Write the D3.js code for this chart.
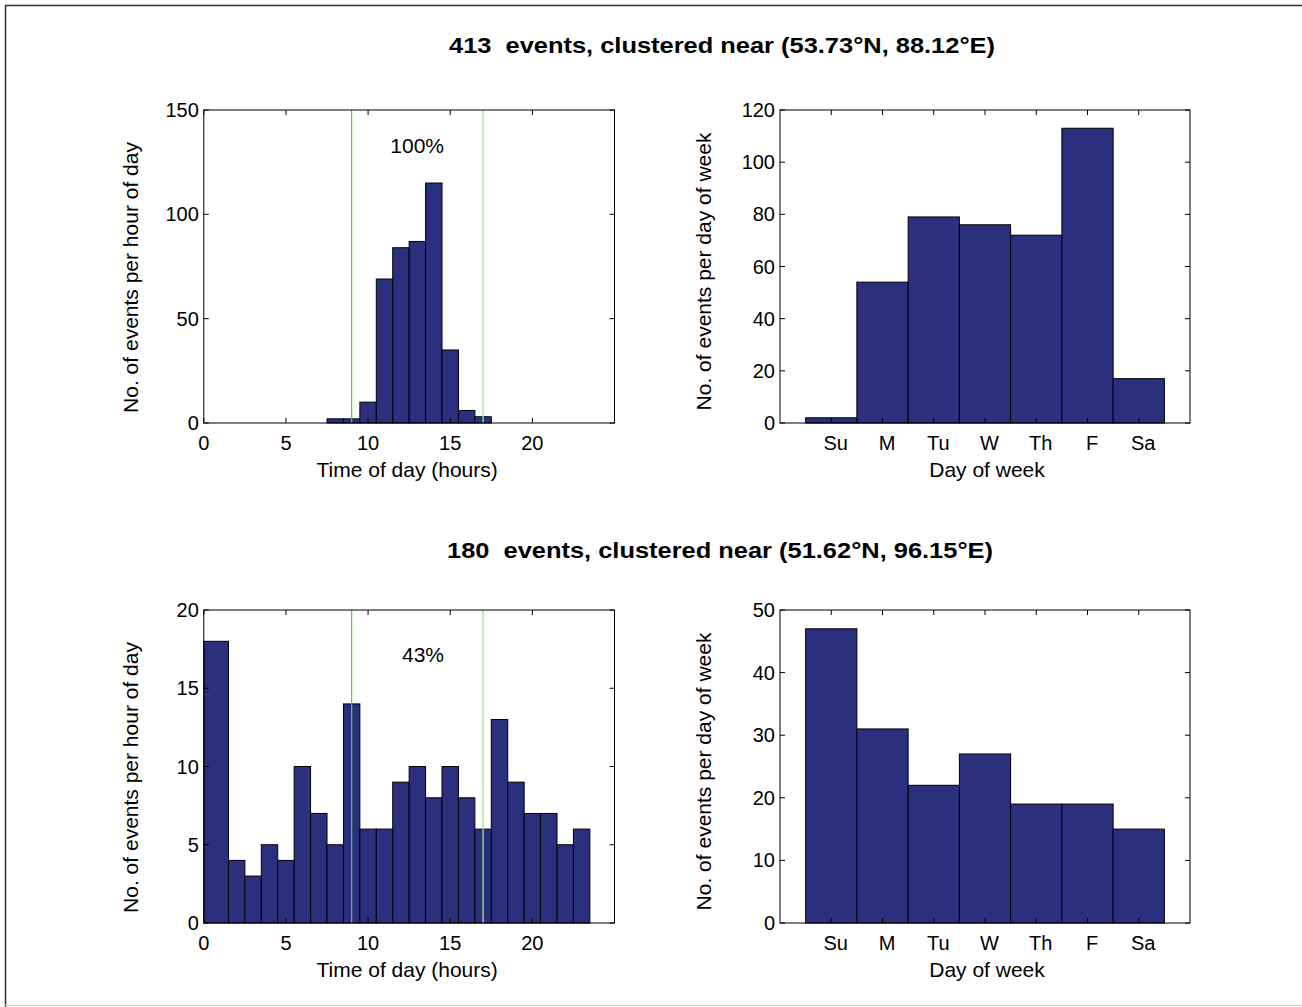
<!DOCTYPE html>
<html>
<head>
<meta charset="utf-8">
<script src="https://cdn.jsdelivr.net/npm/d3@7"></script>
<style>
  html, body { margin: 0; padding: 0; background: #ffffff; }
  svg { display: block; }
  text { font-family: "Liberation Sans", Arial, Helvetica, sans-serif; fill: #000; }
</style>
</head>
<body>
<svg id="chart" width="1302" height="1007"></svg>
<script>
// ---------- data ----------
const titles = [
  "413  events, clustered near (53.73°N, 88.12°E)",
  "180  events, clustered near (51.62°N, 96.15°E)"
];
const percentLabels = ["100%", "43%"];

// hour histograms: bin edges (hours) and counts
const topHourEdges = [7.5, 8.5, 9.5, 10.5, 11.5, 12.5, 13.5, 14.5, 15.5, 16.5, 17.5];
const topHourCounts = [2, 2, 10, 69, 84, 87, 115, 35, 6, 3];

const bottomHourEdges = [0, 1.5, 2.5, 3.5, 4.5, 5.5, 6.5, 7.5, 8.5, 9.5, 10.5, 11.5, 12.5,
                         13.5, 14.5, 15.5, 16.5, 17.5, 18.5, 19.5, 20.5, 21.5, 22.5, 23.5];
const bottomHourCounts = [18, 4, 3, 5, 4, 10, 7, 5, 14, 6, 6, 9, 10, 8, 10, 8, 6, 13, 9, 7, 7, 5, 6];

// working-hours markers
const workStart = 9;
const workEnd = 17;

// day-of-week
const days = ["Su", "M", "Tu", "W", "Th", "F", "Sa"];
const topDayCounts = [2, 54, 79, 76, 72, 113, 17];
const bottomDayCounts = [47, 31, 22, 27, 19, 19, 15];

// axis ticks
const hourTicks = [0, 5, 10, 15, 20];
const topHourYTicks = [0, 50, 100, 150];
const bottomHourYTicks = [0, 5, 10, 15, 20];
const topDayYTicks = [0, 20, 40, 60, 80, 100, 120];
const bottomDayYTicks = [0, 10, 20, 30, 40, 50];

// ---------- drawing ----------
const svg = d3.select("#chart");
const barFill = "#2a2f7e";
const tickFont = "20px";
const labelFont = "21px";

// outer frame
svg.append("line").attr("x1", 5).attr("x2", 1302).attr("y1", 5.5).attr("y2", 5.5)
  .attr("stroke", "#333").attr("stroke-width", 1.5);
svg.append("line").attr("x1", 5.5).attr("x2", 5.5).attr("y1", 5).attr("y2", 1007)
  .attr("stroke", "#333").attr("stroke-width", 1.5);
svg.append("line").attr("x1", 5).attr("x2", 1302).attr("y1", 1005.5).attr("y2", 1005.5)
  .attr("stroke", "#c8c8c8").attr("stroke-width", 1);

function drawFrame(g, x0, x1, y0, y1) {
  g.append("rect").attr("x", x0).attr("y", y0).attr("width", x1 - x0).attr("height", y1 - y0)
    .attr("fill", "none").attr("stroke", "#000").attr("stroke-width", 1);
}

function innerTicks(g, x, y, xTicks, yTicks, xLabels, xLabelDx) {
  const [xa, xb] = x.range();
  const [yb, ya] = y.range();
  const tl = 5;
  xTicks.forEach((t, i) => {
    const px = x(t);
    g.append("line").attr("x1", px).attr("x2", px).attr("y1", yb).attr("y2", yb - tl).attr("stroke", "#000");
    g.append("line").attr("x1", px).attr("x2", px).attr("y1", ya).attr("y2", ya + tl).attr("stroke", "#000");
    g.append("text").attr("x", px + (xLabelDx || 0)).attr("y", yb + 27)
      .attr("text-anchor", "middle").style("font-size", tickFont)
      .text(xLabels ? xLabels[i] : t);
  });
  yTicks.forEach(t => {
    const py = y(t);
    g.append("line").attr("x1", xa).attr("x2", xa + tl).attr("y1", py).attr("y2", py).attr("stroke", "#000");
    g.append("line").attr("x1", xb).attr("x2", xb - tl).attr("y1", py).attr("y2", py).attr("stroke", "#000");
    g.append("text").attr("x", xa - 5).attr("y", py + 7)
      .attr("text-anchor", "end").style("font-size", tickFont).text(t);
  });
}

function hourPanel(top, edges, counts, yMax, yTicks, pct, pctDy) {
  const left = 203.8, right = 614.5, bottom = top + 313;
  const g = svg.append("g");
  const x = d3.scaleLinear().domain([0, 25]).range([left, right]);
  const y = d3.scaleLinear().domain([0, yMax]).range([bottom, top]);
  const bins = counts.map((c, i) => ({ x0: edges[i], x1: edges[i + 1], c }));
  g.selectAll("rect.bar").data(bins).join("rect").attr("class", "bar")
    .attr("x", d => x(d.x0)).attr("width", d => x(d.x1) - x(d.x0))
    .attr("y", d => y(d.c)).attr("height", d => y(0) - y(d.c))
    .attr("fill", barFill).attr("stroke", "#000").attr("stroke-width", 1);
  g.append("line").attr("x1", x(workStart)).attr("x2", x(workStart)).attr("y1", top).attr("y2", bottom)
    .attr("stroke", "#5ccb46").attr("stroke-width", 1.2);
  g.append("line").attr("x1", x(workEnd)).attr("x2", x(workEnd)).attr("y1", top).attr("y2", bottom)
    .attr("stroke", "#9ee08e").attr("stroke-width", 1.4);
  drawFrame(g, left, right, top, bottom);
  innerTicks(g, x, y, hourTicks, yTicks);
  g.append("text").attr("x", 444).attr("y", top + pctDy).attr("text-anchor", "end")
    .style("font-size", labelFont).text(pct);
  g.append("text").attr("x", (left + right) / 2 - 2).attr("y", bottom + 54).attr("text-anchor", "middle")
    .style("font-size", labelFont).text("Time of day (hours)");
  g.append("text").attr("transform", `translate(138,${(top + bottom) / 2 + 11}) rotate(-90)`)
    .attr("text-anchor", "middle").style("font-size", labelFont).text("No. of events per hour of day");
}

function dayPanel(top, counts, yMax, yTicks) {
  const left = 780, right = 1190, bottom = top + 313;
  const g = svg.append("g");
  const x = d3.scaleLinear().domain([0, 8]).range([left, right]);
  const y = d3.scaleLinear().domain([0, yMax]).range([bottom, top]);
  const pos = days.map((d, i) => i + 1);
  g.selectAll("rect.bar").data(counts).join("rect").attr("class", "bar")
    .attr("x", (d, i) => x(pos[i] - 0.5)).attr("width", x(1) - x(0))
    .attr("y", d => y(d)).attr("height", d => y(0) - y(d))
    .attr("fill", barFill).attr("stroke", "#000").attr("stroke-width", 1);
  drawFrame(g, left, right, top, bottom);
  innerTicks(g, x, y, pos, yTicks, days, 4.5);
  g.append("text").attr("x", 987).attr("y", bottom + 54).attr("text-anchor", "middle")
    .style("font-size", labelFont).text("Day of week");
  g.append("text").attr("transform", `translate(711,${(top + bottom) / 2 + 5}) rotate(-90)`)
    .attr("text-anchor", "middle").style("font-size", labelFont).text("No. of events per day of week");
}

// titles
svg.append("text").attr("x", 722).attr("y", 53).attr("text-anchor", "middle")
  .style("font-size", "22px").style("font-weight", "bold").style("white-space", "pre")
  .attr("textLength", 546).attr("lengthAdjust", "spacingAndGlyphs").text(titles[0]);
svg.append("text").attr("x", 720).attr("y", 558).attr("text-anchor", "middle")
  .style("font-size", "22px").style("font-weight", "bold").style("white-space", "pre")
  .attr("textLength", 546).attr("lengthAdjust", "spacingAndGlyphs").text(titles[1]);

hourPanel(110, topHourEdges, topHourCounts, 150, topHourYTicks, percentLabels[0], 43);
dayPanel(110, topDayCounts, 120, topDayYTicks);
hourPanel(610, bottomHourEdges, bottomHourCounts, 20, bottomHourYTicks, percentLabels[1], 52);
dayPanel(610, bottomDayCounts, 50, bottomDayYTicks);
</script>
</body>
</html>
